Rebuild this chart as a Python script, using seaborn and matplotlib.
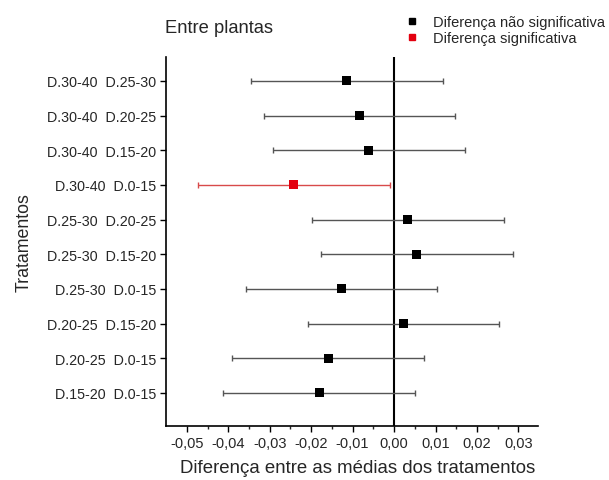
import numpy as np
import pandas as pd
import matplotlib
matplotlib.use("Agg")
import matplotlib.pyplot as plt
from matplotlib.lines import Line2D
import seaborn as sns

# Data (top to bottom as shown)
comparisons = [
    "D.30-40  D.25-30",
    "D.30-40  D.20-25",
    "D.30-40  D.15-20",
    "D.30-40  D.0-15",
    "D.25-30  D.20-25",
    "D.25-30  D.15-20",
    "D.25-30  D.0-15",
    "D.20-25  D.15-20",
    "D.20-25  D.0-15",
    "D.15-20  D.0-15",
]
mean_diff = [-0.0115, -0.0083, -0.0061, -0.0242, 0.0032, 0.0054, -0.0127, 0.0022, -0.0158, -0.0180]
lower_ci = [-0.0346, -0.0313, -0.0292, -0.0472, -0.0198, -0.0176, -0.0357, -0.0208, -0.0390, -0.0412]
upper_ci = [0.0117, 0.0148, 0.0170, -0.0011, 0.0264, 0.0286, 0.0104, 0.0254, 0.0073, 0.0051]
significant = [False, False, False, True, False, False, False, False, False, False]

x_ticks = [-0.05, -0.04, -0.03, -0.02, -0.01, 0.00, 0.01, 0.02, 0.03]
x_tick_labels = ["-0,05", "-0,04", "-0,03", "-0,02", "-0,01", "0,00", "0,01", "0,02", "0,03"]

legend_labels = ["Diferença não significativa", "Diferença significativa"]

df = pd.DataFrame({
    "comp": comparisons,
    "mean": mean_diff,
    "lo": lower_ci,
    "hi": upper_ci,
    "sig": [legend_labels[1] if s else legend_labels[0] for s in significant],
})
df["pos"] = np.arange(len(df))

sns.set_style("white")
plt.rcParams["font.family"] = ["Liberation Sans", "DejaVu Sans"]

fig = plt.figure(figsize=(6.09, 4.81), dpi=100)
ax = fig.add_axes([0.272, 0.112, 0.612, 0.768])

# error bars
for _, r in df.iterrows():
    col = "#d84a4a" if r["sig"] == legend_labels[1] else "#555555"
    ax.errorbar(r["mean"], r["pos"],
                xerr=[[r["mean"] - r["lo"]], [r["hi"] - r["mean"]]],
                fmt="none", ecolor=col, elinewidth=1.0, capsize=2.5, capthick=1.0, zorder=2)

ax.axvline(0, color="black", lw=1.5, zorder=1)

sns.scatterplot(data=df, x="mean", y="pos", hue="sig",
                palette={legend_labels[0]: "black", legend_labels[1]: "#e3000f"},
                marker="s", s=42, edgecolor="none", legend=False, ax=ax, zorder=3)

ax.set_ylim(9.96, -0.7)
ax.set_xlim(-0.0551, 0.0348)
ax.set_yticks(df["pos"])
ax.set_yticklabels(df["comp"], fontsize=10.3)
ax.set_xticks(x_ticks)
ax.set_xticklabels(x_tick_labels, fontsize=10.5)
ax.set_xticks(np.array(x_ticks[:-1]) + 0.005, minor=True)
ax.tick_params(axis="both", which="major", direction="out", length=4, width=1.0, color="black",
               bottom=True, left=True, pad=3)
ax.tick_params(axis="x", which="minor", direction="out", length=2.5, width=1.0, bottom=True)

for s in ["top", "right"]:
    ax.spines[s].set_visible(False)
for s in ["left", "bottom"]:
    ax.spines[s].set_color("black")
    ax.spines[s].set_linewidth(1.2)

ax.set_xlabel("Diferença entre as médias dos tratamentos", fontsize=13.4, labelpad=6)
ax.xaxis.set_label_coords(0.515, -0.088)
ax.set_ylabel("Tratamentos", fontsize=12.8, labelpad=10)

fig.text(0.271, 0.94, "Entre plantas", fontsize=13.2, ha="left", va="center")

handles = [Line2D([], [], marker="s", color="black", linestyle="none", markersize=5),
           Line2D([], [], marker="s", color="#e3000f", linestyle="none", markersize=5)]
fig.legend(handles, legend_labels, loc="upper left", bbox_to_anchor=(0.643, 0.993),
           frameon=False, fontsize=10.5, handletextpad=0.95, labelspacing=0.12, handlelength=1.0)

fig.savefig("out.png", dpi=100)
